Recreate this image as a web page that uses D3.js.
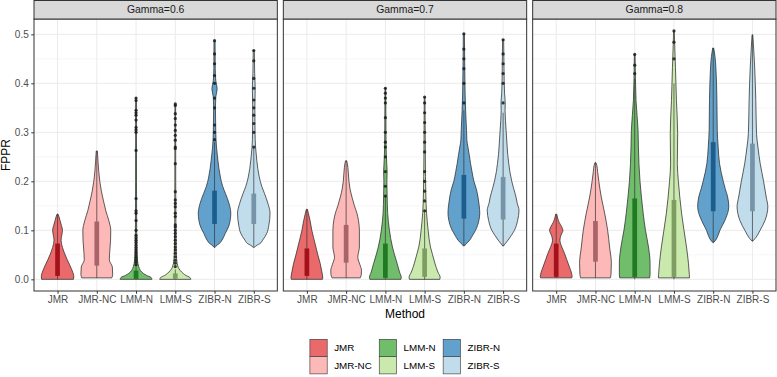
<!DOCTYPE html>
<html>
<head>
<meta charset="utf-8">
<script src="https://cdn.jsdelivr.net/npm/d3@7"></script>
<style>
body { margin: 0; background: #fff; }
text { font-family: "Liberation Sans", Arial, sans-serif; }
</style>
</head>
<body>
<div id="chart"></div>
<script>
var methods = ["JMR", "JMR-NC", "LMM-N", "LMM-S", "ZIBR-N", "ZIBR-S"];
var gammas = ["Gamma=0.6", "Gamma=0.7", "Gamma=0.8"];
var fillColors = ["#EA6A6C", "#FCB9B8", "#70BD6B", "#CAE9AD", "#62A1CB", "#C1DDEB"];
var boxColors = ["#A3121A", "#A86468", "#1F7A22", "#7E9D62", "#1B5E8E", "#7793A8"];
var yTicks = [0, 0.1, 0.2, 0.3, 0.4, 0.5];

// violin outlines, one per method: [FPPR, relative half width]
var violins06 = [
    [[0,0.9],[0.005,0.92],[0.022,0.78],[0.04,0.55],[0.05,0.43],[0.065,0.28],[0.08,0.2],[0.09,0.24],[0.1,0.28],[0.11,0.22],[0.12,0.14],[0.128,0.08],[0.133,0.03]],
    [[0.003,0.85],[0.01,0.9],[0.025,0.88],[0.04,0.71],[0.06,0.74],[0.08,0.78],[0.1,0.79],[0.12,0.68],[0.14,0.51],[0.16,0.38],[0.18,0.26],[0.2,0.17],[0.22,0.11],[0.24,0.07],[0.255,0.045],[0.262,0.03]],
    [[0,0.9],[0.004,0.85],[0.008,0.6],[0.012,0.42],[0.018,0.25],[0.026,0.15],[0.04,0.08],[0.06,0.05],[0.1,0.035],[0.2,0.025],[0.37,0.02]],
    [[0,0.88],[0.004,0.82],[0.008,0.6],[0.012,0.45],[0.018,0.28],[0.025,0.16],[0.04,0.08],[0.06,0.05],[0.1,0.035],[0.2,0.025],[0.357,0.02]],
    [[0.065,0.02],[0.07,0.15],[0.073,0.27],[0.08,0.42],[0.094,0.61],[0.11,0.82],[0.135,0.92],[0.155,0.82],[0.175,0.62],[0.19,0.46],[0.209,0.33],[0.243,0.19],[0.27,0.11],[0.3,0.07],[0.35,0.05],[0.372,0.07],[0.389,0.15],[0.406,0.07],[0.43,0.04],[0.487,0.03]],
    [[0.065,0.02],[0.07,0.2],[0.073,0.35],[0.08,0.5],[0.094,0.74],[0.11,0.85],[0.135,0.92],[0.155,0.8],[0.175,0.61],[0.19,0.45],[0.209,0.31],[0.243,0.17],[0.27,0.1],[0.3,0.07],[0.35,0.06],[0.39,0.08],[0.42,0.05],[0.467,0.03]]
];
var violins07 = [
    [[0,0.88],[0.003,0.9],[0.015,0.85],[0.033,0.75],[0.05,0.62],[0.066,0.51],[0.085,0.38],[0.1,0.28],[0.12,0.18],[0.135,0.085],[0.143,0.03]],
    [[0.003,0.8],[0.01,0.86],[0.018,0.87],[0.03,0.78],[0.045,0.66],[0.066,0.75],[0.1,0.75],[0.12,0.7],[0.135,0.61],[0.15,0.47],[0.168,0.33],[0.185,0.22],[0.2,0.16],[0.215,0.13],[0.228,0.1],[0.236,0.07],[0.242,0.03]],
    [[0,0.88],[0.004,0.9],[0.015,0.8],[0.033,0.66],[0.05,0.52],[0.066,0.4],[0.1,0.23],[0.135,0.13],[0.17,0.1],[0.2,0.085],[0.22,0.1],[0.235,0.08],[0.27,0.04],[0.33,0.03],[0.391,0.02]],
    [[0,0.86],[0.004,0.88],[0.015,0.75],[0.033,0.58],[0.05,0.45],[0.066,0.33],[0.1,0.2],[0.135,0.11],[0.17,0.07],[0.25,0.04],[0.372,0.02]],
    [[0.068,0.02],[0.072,0.12],[0.08,0.33],[0.09,0.5],[0.1,0.66],[0.12,0.85],[0.135,0.9],[0.15,0.87],[0.168,0.8],[0.185,0.7],[0.2,0.57],[0.22,0.46],[0.236,0.38],[0.255,0.3],[0.27,0.23],[0.284,0.17],[0.304,0.15],[0.345,0.1],[0.38,0.07],[0.43,0.05],[0.501,0.03]],
    [[0.068,0.02],[0.072,0.1],[0.08,0.28],[0.09,0.47],[0.1,0.64],[0.12,0.82],[0.141,0.9],[0.155,0.8],[0.168,0.73],[0.185,0.6],[0.2,0.49],[0.22,0.38],[0.236,0.32],[0.255,0.26],[0.27,0.23],[0.304,0.17],[0.345,0.11],[0.36,0.12],[0.38,0.08],[0.43,0.05],[0.489,0.03]]
];
var violins08 = [
    [[0.003,0.88],[0.005,0.9],[0.015,0.85],[0.025,0.75],[0.04,0.6],[0.053,0.47],[0.065,0.33],[0.08,0.21],[0.09,0.27],[0.1,0.38],[0.108,0.3],[0.116,0.17],[0.125,0.08],[0.133,0.03]],
    [[0.003,0.84],[0.01,0.88],[0.033,0.9],[0.066,0.8],[0.1,0.69],[0.135,0.52],[0.168,0.33],[0.2,0.19],[0.22,0.12],[0.232,0.08],[0.238,0.03]],
    [[0.003,0.85],[0.01,0.87],[0.033,0.87],[0.066,0.78],[0.1,0.61],[0.135,0.48],[0.168,0.38],[0.2,0.3],[0.236,0.24],[0.27,0.21],[0.304,0.19],[0.365,0.075],[0.41,0.04],[0.459,0.02]],
    [[0.003,0.88],[0.01,0.87],[0.033,0.82],[0.066,0.71],[0.1,0.57],[0.135,0.43],[0.168,0.33],[0.2,0.25],[0.236,0.19],[0.298,0.21],[0.365,0.14],[0.433,0.085],[0.47,0.05],[0.507,0.02]],
    [[0.075,0.02],[0.08,0.14],[0.09,0.28],[0.1,0.38],[0.12,0.66],[0.148,0.88],[0.168,0.82],[0.185,0.68],[0.2,0.57],[0.236,0.36],[0.27,0.28],[0.304,0.23],[0.365,0.21],[0.433,0.15],[0.455,0.1],[0.472,0.03]],
    [[0.078,0.02],[0.085,0.19],[0.1,0.43],[0.12,0.71],[0.148,0.87],[0.168,0.78],[0.2,0.63],[0.236,0.44],[0.27,0.31],[0.298,0.23],[0.365,0.19],[0.433,0.125],[0.47,0.07],[0.499,0.02]]
];

// boxplots: [lower whisker, Q1, Q3, upper whisker]
var boxes06 = [[0,0.007,0.073,0.133],[0.003,0.028,0.118,0.262],[0,0.001,0.018,0.03],[0,0.001,0.012,0.02],[0.066,0.113,0.181,0.28],[0.066,0.113,0.175,0.268]];
var boxes07 = [[0,0.007,0.063,0.143],[0.003,0.034,0.111,0.242],[0,0.003,0.073,0.17],[0,0.005,0.063,0.14],[0.068,0.124,0.213,0.345],[0.068,0.122,0.209,0.34]];
var boxes08 = [[0.003,0.005,0.073,0.133],[0.003,0.036,0.119,0.238],[0,0.005,0.165,0.41],[0,0.005,0.162,0.4],[0.075,0.139,0.28,0.472],[0.078,0.139,0.277,0.499]];

// outlying points
var outliers06 = [
    [],
    [],
    [0.03,0.035,0.04,0.045,0.05,0.055,0.06,0.065,0.07,0.075,0.08,0.085,0.09,0.1,0.12,0.135,0.14,0.165,0.263,0.3,0.305,0.31,0.325,0.335,0.34,0.345,0.365,0.37],
    [0.026,0.033,0.039,0.046,0.053,0.06,0.066,0.073,0.08,0.087,0.094,0.1,0.107,0.111,0.128,0.135,0.148,0.155,0.162,0.179,0.236,0.267,0.27,0.284,0.294,0.304,0.315,0.328,0.338,0.355,0.358],
    [0.285,0.3,0.315,0.35,0.37,0.4,0.416,0.44,0.46,0.487],
    [0.27,0.3,0.318,0.335,0.35,0.366,0.39,0.41,0.446,0.467]
];
var outliers07 = [
    [],
    [],
    [0.17,0.19,0.22,0.25,0.27,0.28,0.3,0.33,0.36,0.37,0.38,0.39],
    [0.14,0.16,0.18,0.2,0.22,0.26,0.28,0.3,0.32,0.34,0.36,0.372],
    [0.36,0.4,0.43,0.45,0.47,0.501],
    [0.36,0.4,0.42,0.44,0.46,0.489]
];
var outliers08 = [[],[],[0.42,0.437,0.459],[0.45,0.484,0.507],[],[]];

var panels = [
    {name: gammas[0], violins: violins06, boxes: boxes06, outliers: outliers06},
    {name: gammas[1], violins: violins07, boxes: boxes07, outliers: outliers07},
    {name: gammas[2], violins: violins08, boxes: boxes08, outliers: outliers08}
];

var w = 777;
var h = 377;
var left = 34, right = 1, gap = 6;
var stripTop = 0.5, stripH = 18.5;
var plotTop = 19, plotBottom = 291;
var panelW = (w - left - right - 2 * gap) / 3;

var svg = d3.select("#chart")
            .append("svg")
            .attr("width", w)
            .attr("height", h);

var yScale = d3.scaleLinear()
               .domain([-0.0238, 0.5313])
               .range([plotBottom, plotTop]);

var xScale = d3.scalePoint()
               .domain(methods)
               .range([0, panelW])
               .padding(0.6);

var halfMax = 0.45 * xScale.step();
var boxW = 0.12 * xScale.step();

var violinArea = d3.area()
                   .curve(d3.curveMonotoneY)
                   .y(function(d) { return yScale(d[0]); })
                   .x0(function(d) { return -d[1] * halfMax; })
                   .x1(function(d) { return d[1] * halfMax; });

var minorTicks = [0.05, 0.15, 0.25, 0.35, 0.45];

panels.forEach(function(p, pi) {
    var g = svg.append("g")
               .attr("transform", "translate(" + (left + pi * (panelW + gap)) + ",0)");

    // background grid
    g.selectAll(".minor")
     .data(minorTicks)
     .enter()
     .append("line")
     .attr("x1", 0).attr("x2", panelW)
     .attr("y1", function(d) { return yScale(d); })
     .attr("y2", function(d) { return yScale(d); })
     .attr("stroke", "#F2F2F2")
     .attr("stroke-width", 0.6);
    g.selectAll(".major")
     .data(yTicks)
     .enter()
     .append("line")
     .attr("x1", 0).attr("x2", panelW)
     .attr("y1", function(d) { return yScale(d); })
     .attr("y2", function(d) { return yScale(d); })
     .attr("stroke", "#EBEBEB")
     .attr("stroke-width", 1);
    g.selectAll(".vgrid")
     .data(methods)
     .enter()
     .append("line")
     .attr("x1", function(d) { return xScale(d); })
     .attr("x2", function(d) { return xScale(d); })
     .attr("y1", plotTop).attr("y2", plotBottom)
     .attr("stroke", "#EBEBEB")
     .attr("stroke-width", 1);

    var vg = g.selectAll(".method")
              .data(methods)
              .enter()
              .append("g")
              .attr("transform", function(d) { return "translate(" + xScale(d) + ",0)"; });

    // violins
    vg.append("path")
      .attr("d", function(d, i) { return violinArea(p.violins[i]); })
      .attr("fill", function(d, i) { return fillColors[i]; })
      .attr("stroke", "#2B2B2B")
      .attr("stroke-width", 0.75);

    // whiskers
    vg.append("line")
      .attr("x1", 0).attr("x2", 0)
      .attr("y1", function(d, i) { return yScale(p.boxes[i][0]); })
      .attr("y2", function(d, i) { return yScale(p.boxes[i][3]); })
      .attr("stroke", "#333333")
      .attr("stroke-width", 0.7);

    // boxes
    vg.append("rect")
      .attr("x", -boxW / 2)
      .attr("width", boxW)
      .attr("y", function(d, i) { return yScale(p.boxes[i][2]); })
      .attr("height", function(d, i) { return yScale(p.boxes[i][1]) - yScale(p.boxes[i][2]); })
      .attr("fill", function(d, i) { return boxColors[i]; });

    // outliers
    vg.each(function(d, i) {
        d3.select(this).selectAll("circle")
          .data(p.outliers[i])
          .enter()
          .append("circle")
          .attr("cx", 0)
          .attr("cy", function(v) { return yScale(v); })
          .attr("r", 1.6)
          .attr("fill", "#1A1A1A")
          .attr("fill-opacity", 0.85);
    });

    // panel border
    g.append("rect")
     .attr("x", 0).attr("y", plotTop)
     .attr("width", panelW).attr("height", plotBottom - plotTop)
     .attr("fill", "none")
     .attr("stroke", "#333333")
     .attr("stroke-width", 1);

    // strip
    g.append("rect")
     .attr("x", 0).attr("y", stripTop)
     .attr("width", panelW).attr("height", stripH)
     .attr("fill", "#D9D9D9")
     .attr("stroke", "#333333")
     .attr("stroke-width", 1);
    g.append("text")
     .attr("x", panelW / 2)
     .attr("y", stripTop + stripH / 2)
     .attr("dy", "0.35em")
     .attr("text-anchor", "middle")
     .style("font-size", "10.4px")
     .style("fill", "#1A1A1A")
     .text(p.name);

    // x axis
    var xAxis = g.append("g")
                 .attr("transform", "translate(0," + plotBottom + ")")
                 .call(d3.axisBottom(xScale).tickSize(2.75).tickPadding(2.3));
    xAxis.select(".domain").remove();
    xAxis.selectAll("line").attr("stroke", "#333333");
    xAxis.selectAll("text")
         .style("font-size", "10px")
         .style("font-family", "'Liberation Sans', Arial, sans-serif")
         .style("fill", "#4D4D4D");

    if (pi == 0) {
        var yAxis = g.append("g")
                     .call(d3.axisLeft(yScale)
                             .tickValues(yTicks)
                             .tickFormat(d3.format(".1f"))
                             .tickSize(2.75)
                             .tickPadding(2.5));
        yAxis.select(".domain").remove();
        yAxis.selectAll("line").attr("stroke", "#333333");
        yAxis.selectAll("text")
             .style("font-size", "10px")
             .style("font-family", "'Liberation Sans', Arial, sans-serif")
             .style("fill", "#4D4D4D");
    }
});

// axis titles
svg.append("text")
   .attr("transform", "translate(10," + ((plotTop + plotBottom) / 2) + ") rotate(-90)")
   .attr("text-anchor", "middle")
   .style("font-size", "12px")
   .text("FPPR");

svg.append("text")
   .attr("x", left + (w - left - right) / 2)
   .attr("y", 317.5)
   .attr("text-anchor", "middle")
   .style("font-size", "12px")
   .text("Method");

// legend: 3 columns x 2 rows, filled by column
var keySize = 17.3, keyGap = 7, colGap = 7.5;
var legend = svg.append("g");
var labels = legend.selectAll(".lab")
                   .data(methods)
                   .enter()
                   .append("text")
                   .style("font-size", "9.8px")
                   .attr("dy", "0.35em")
                   .text(function(d) { return d; });
var widths = [];
labels.each(function(d, i) {
    var c = Math.floor(i / 2);
    widths[c] = Math.max(widths[c] || 0, this.getComputedTextLength());
});
var colX = [], total = 0;
widths.forEach(function(wd, c) {
    colX.push(total);
    total += keySize + keyGap + wd + (c < widths.length - 1 ? colGap : 0);
});
var legendX = left + (w - left - right) / 2 - total / 2;
var legendY = 339.3;

legend.selectAll(".key")
      .data(methods)
      .enter()
      .append("rect")
      .attr("x", function(d, i) { return legendX + colX[Math.floor(i / 2)]; })
      .attr("y", function(d, i) { return legendY + (i % 2) * keySize; })
      .attr("width", keySize)
      .attr("height", keySize)
      .attr("fill", function(d, i) { return fillColors[i]; })
      .attr("stroke", "#333333")
      .attr("stroke-width", 0.6);

labels.attr("x", function(d, i) { return legendX + colX[Math.floor(i / 2)] + keySize + keyGap; })
      .attr("y", function(d, i) { return legendY + (i % 2) * keySize + keySize / 2; });
</script>
</body>
</html>
